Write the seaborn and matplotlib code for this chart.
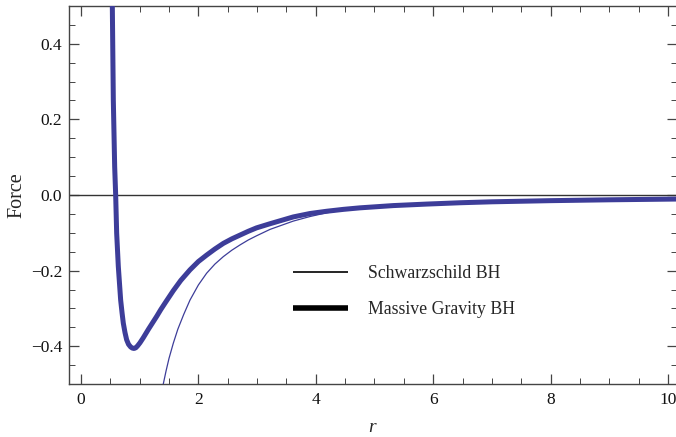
import matplotlib
matplotlib.use("Agg")
import matplotlib.pyplot as plt
import seaborn as sns
import pandas as pd
from matplotlib.lines import Line2D
from matplotlib.ticker import MultipleLocator, FuncFormatter

# Schwarzschild BH (thin curve)
schw_r = [1.37, 1.402, 1.45, 1.50, 1.573, 1.65, 1.75, 1.857, 2.0, 2.14, 2.28, 2.425,
          2.57, 2.71, 2.85, 2.99, 3.22, 3.617, 3.9, 4.186, 4.47, 4.75, 5.32, 5.89,
          6.46, 7.0, 7.99, 9.0, 10.2]
schw_f = [-0.53, -0.50, -0.465, -0.432, -0.392, -0.355, -0.316, -0.278, -0.238, -0.207,
          -0.183, -0.163, -0.146, -0.132, -0.119, -0.108, -0.091, -0.069, -0.057,
          -0.047, -0.040, -0.035, -0.029, -0.0245, -0.021, -0.0185, -0.0155, -0.013,
          -0.0108]

# Massive Gravity BH (thick curve)
mg_r = [0.523, 0.534, 0.551, 0.574, 0.591, 0.608, 0.636, 0.676, 0.70, 0.721, 0.75,
        0.778, 0.81, 0.846, 0.875, 0.905, 0.935, 0.965, 1.005, 1.06, 1.15, 1.22, 1.29,
        1.36, 1.44, 1.573, 1.70, 1.857, 2.0, 2.14, 2.28, 2.425, 2.57, 2.71, 2.85, 2.99,
        3.22, 3.617, 3.9, 4.186, 4.47, 4.75, 5.32, 5.89, 6.46, 7.0, 7.99, 9.0, 10.2]
mg_f = [0.60, 0.50, 0.251, 0.075, 0.0, -0.101, -0.189, -0.278, -0.312, -0.339, -0.364,
        -0.383, -0.395, -0.402, -0.405, -0.406, -0.404, -0.399, -0.391, -0.378, -0.355,
        -0.338, -0.321, -0.303, -0.284, -0.253, -0.226, -0.198, -0.176, -0.159, -0.143,
        -0.128, -0.116, -0.106, -0.096, -0.087, -0.076, -0.058, -0.049, -0.043, -0.038,
        -0.034, -0.028, -0.024, -0.0205, -0.018, -0.015, -0.0127, -0.0106]

legend_labels = ["Schwarzschild BH", "Massive Gravity BH"]
x_ticks = [0, 2, 4, 6, 8, 10]
y_ticks = [-0.4, -0.2, 0.0, 0.2, 0.4]

sns.set_style("ticks")
plt.rcParams["font.family"] = ["Liberation Serif", "DejaVu Serif"]
plt.rcParams["mathtext.fontset"] = "custom"
plt.rcParams["mathtext.it"] = "Liberation Serif:italic"
plt.rcParams["mathtext.rm"] = "Liberation Serif"

curve_color = "#3d3d99"
frame_color = "#444444"

fig = plt.figure(figsize=(6.76, 4.37), dpi=100)
ax = fig.add_axes([69 / 676, 1 - 384 / 437, (677 - 69) / 676, (384 - 6) / 437])

df_s = pd.DataFrame({"r": schw_r, "F": schw_f})
df_m = pd.DataFrame({"r": mg_r, "F": mg_f})

ax.axhline(0, color="#333333", lw=1.0, zorder=1)
sns.lineplot(data=df_s, x="r", y="F", ax=ax, color=curve_color, lw=0.9,
             estimator=None, zorder=3)
sns.lineplot(data=df_m, x="r", y="F", ax=ax, color=curve_color, lw=3.6,
             estimator=None, zorder=4, solid_capstyle="round",
             solid_joinstyle="round")

ax.set_xlim(-0.204, 10.153)
ax.set_ylim(-0.5, 0.5)
ax.set_xticks(x_ticks)
ax.set_yticks(y_ticks)
ax.xaxis.set_minor_locator(MultipleLocator(0.5))
ax.yaxis.set_minor_locator(MultipleLocator(0.05))
ax.yaxis.set_major_formatter(FuncFormatter(lambda v, p: f"{v:.1f}".replace("-", "\u2212")
                                           if abs(v) > 1e-9 else "0.0"))

for sp in ax.spines.values():
    sp.set_visible(True)
    sp.set_color(frame_color)
    sp.set_linewidth(1.0)

ax.tick_params(which="both", direction="in", top=True, right=True,
               color=frame_color, labelsize=12.5, labelcolor="#111111")
ax.tick_params(which="major", length=7, width=0.9)
ax.tick_params(which="minor", length=4, width=0.7)
ax.tick_params(axis="x", which="major", pad=6)
ax.tick_params(axis="y", which="major", pad=5)

ax.set_xlabel("$r$", fontsize=14, labelpad=8)
ax.set_ylabel("Force", fontsize=14.5, labelpad=3)

handles = [Line2D([], [], color="black", lw=1.2, solid_capstyle="butt"),
           Line2D([], [], color="black", lw=4.0, solid_capstyle="butt")]
leg = ax.legend(handles, legend_labels, frameon=False, fontsize=12.8,
                handlelength=3.1, handletextpad=1.15, labelspacing=1.08,
                borderpad=0, loc="upper left",
                bbox_to_anchor=(284 / 676, 1 - 256 / 437),
                bbox_transform=fig.transFigure)

fig.savefig("out.png", dpi=100)
